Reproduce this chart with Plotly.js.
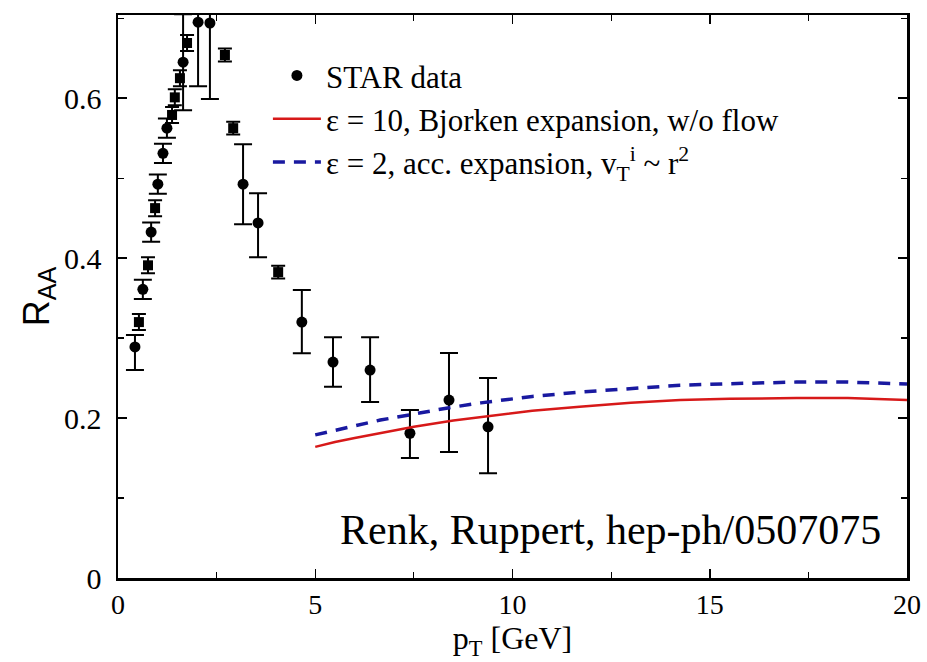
<!DOCTYPE html>
<html>
<head>
<meta charset="utf-8">
<script src="https://cdn.plot.ly/plotly-3.0.1.min.js"></script>
<style>html,body{margin:0;padding:0;background:#fff;}</style>
</head>
<body>
<div id="chart" style="width:927px;height:662px;"></div>
<script>
// STAR data (circles)
const circPt   = [0.43, 0.63, 0.84, 1.01, 1.14, 1.24, 1.65, 2.03, 2.33, 3.17, 3.55, 4.66, 5.45, 6.39, 7.40, 8.39, 9.38];
const circRaa  = [0.289, 0.361, 0.4325, 0.4925, 0.531, 0.5625, 0.645, 0.695, 0.694, 0.4925, 0.444, 0.320, 0.270, 0.260, 0.181, 0.2225, 0.189];
const circErrP = [0.015, 0.012, 0.012, 0.012, 0.012, 0.012, 0.06, 0.03, 0.03, 0.050, 0.037, 0.040, 0.031, 0.041, 0.029, 0.059, 0.061];
const circErrM = [0.029, 0.012, 0.012, 0.012, 0.012, 0.012, 0.06, 0.08, 0.095, 0.050, 0.043, 0.039, 0.031, 0.040, 0.031, 0.065, 0.058];
// STAR data (squares)
const sqPt   = [0.53, 0.76, 0.94, 1.37, 1.44, 1.57, 1.75, 2.71, 2.92, 4.06];
const sqRaa  = [0.320, 0.391, 0.4625, 0.579, 0.601, 0.625, 0.669, 0.654, 0.5625, 0.3825];
const sqErr  = [0.010, 0.010, 0.010, 0.010, 0.010, 0.010, 0.010, 0.008, 0.008, 0.008];
// Model curves
const bjPt  = [5, 5.5, 6, 6.65, 7.5, 8.5, 9.5, 10.5, 11.7, 13, 14.25, 15.5, 17.2, 18.5, 20];
const bjRaa = [0.164, 0.170, 0.175, 0.181, 0.189, 0.197, 0.203, 0.209, 0.214, 0.219, 0.2225, 0.224, 0.225, 0.225, 0.2225];
const acPt  = [5, 6, 6.65, 7.5, 8.4, 9.2, 10.5, 11.7, 13, 14.25, 15.5, 17.2, 18.5, 20];
const acRaa = [0.179, 0.190, 0.1975, 0.205, 0.213, 0.219, 0.227, 0.2325, 0.237, 0.241, 0.243, 0.245, 0.245, 0.2425];
// Ticks
const xTickVals = [0, 5, 10, 15, 20];
const xTickText = ['0', '5', '10', '15', '20'];
const yTickVals = [0, 0.2, 0.4, 0.6];
const yTickText = ['0', '0.2', '0.4', '0.6'];

const serif = 'Liberation Serif';

const traces = [
  {
    x: circPt, y: circRaa, type: 'scatter', mode: 'markers', name: 'STAR data',
    legendgroup: 'a',
    marker: {symbol: 'circle', size: 11, color: '#000'},
    error_y: {type: 'data', symmetric: false, array: circErrP, arrayminus: circErrM, color: '#000', thickness: 2, width: 9}
  },
  {
    x: sqPt, y: sqRaa, type: 'scatter', mode: 'markers', name: 'STAR data sq', showlegend: false,
    marker: {symbol: 'square', size: 10, color: '#000'},
    error_y: {type: 'data', array: sqErr, color: '#000', thickness: 2, width: 7}
  },
  {
    x: bjPt, y: bjRaa, type: 'scatter', mode: 'lines', name: 'ε = 10, Bjorken expansion, w/o flow',
    legendgroup: 'b',
    line: {color: 'rgb(215,25,25)', width: 2.5}
  },
  {
    x: acPt, y: acRaa, type: 'scatter', mode: 'lines', name: 'ε = 2, acc. expansion, v<sub>T</sub><sup>i</sup> ~ r<sup>2</sup>',
    legendgroup: 'c',
    line: {color: 'rgb(25,25,160)', width: 3.5, dash: '12px,9px'}
  }
];

const layout = {
  width: 927, height: 662,
  margin: {l: 118, r: 20, t: 15, b: 84},
  paper_bgcolor: '#fff', plot_bgcolor: '#fff',
  font: {family: serif, color: '#000', size: 26},
  showlegend: true,
  legend: {
    x: 0.19, y: 0.94, xanchor: 'left', yanchor: 'top',
    bgcolor: 'rgba(0,0,0,0)', font: {family: serif, size: 31, color: '#000'},
    traceorder: 'grouped', tracegroupgap: 0, itemwidth: 48
  },
  xaxis: {
    range: [0, 20], showgrid: false, zeroline: false,
    showline: true, linecolor: '#000', linewidth: 2.5, mirror: 'ticks',
    ticks: 'inside', ticklen: 9, tickwidth: 1.5, tickcolor: '#000',
    tickmode: 'array', tickvals: xTickVals, ticktext: xTickText,
    minor: {dtick: 2.5, tick0: 0, ticks: 'inside', ticklen: 6, tickwidth: 1.2, tickcolor: '#000', showgrid: false},
    tickfont: {family: serif, size: 28, color: '#000'}, ticklabelstandoff: 0,
    title: {text: 'p<sub>T</sub> [GeV]', font: {family: serif, size: 32, color: '#000'}, standoff: 3}
  },
  yaxis: {
    range: [0, 0.704], showgrid: false, zeroline: false,
    showline: true, linecolor: '#000', linewidth: 2.5, mirror: 'ticks',
    ticks: 'inside', ticklen: 9, tickwidth: 1.5, tickcolor: '#000',
    tickmode: 'array', tickvals: yTickVals, ticktext: yTickText,
    minor: {dtick: 0.1, tick0: 0, ticks: 'inside', ticklen: 6, tickwidth: 1.2, tickcolor: '#000', showgrid: false},
    tickfont: {family: serif, size: 30, color: '#000'}, ticklabelstandoff: 8,
    title: {text: 'R<sub>AA</sub>', font: {family: 'Liberation Sans', size: 36, color: '#000'}, standoff: 4}
  },
  annotations: [
    {
      text: 'Renk, Ruppert, hep-ph/0507075', xref: 'paper', yref: 'paper',
      x: 0.97, y: 0.04, xanchor: 'right', yanchor: 'bottom', showarrow: false,
      font: {family: serif, size: 42, color: '#000'}
    }
  ]
};

Plotly.newPlot('chart', traces, layout, {displayModeBar: false, staticPlot: true});
</script>
</body>
</html>
